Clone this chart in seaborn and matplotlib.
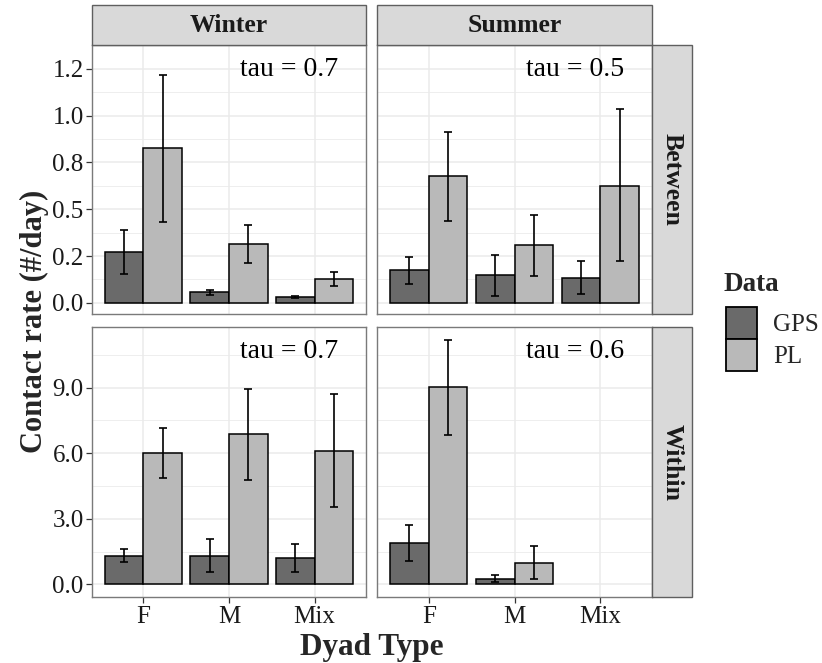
import numpy as np
import pandas as pd
import matplotlib
matplotlib.use("Agg")
import matplotlib.pyplot as plt
from matplotlib.patches import Patch, Rectangle
import seaborn as sns

# ---- data -------------------------------------------------------------
dyads = ["F", "M", "Mix"]
sources = ["GPS", "PL"]
seasons = ["Winter", "Summer"]
groups = ["Between", "Within"]

winter_between_gps = [0.274, 0.056, 0.032]
winter_between_gps_lo = [0.155, 0.043, 0.025]
winter_between_gps_hi = [0.389, 0.071, 0.038]
winter_between_pl = [0.825, 0.316, 0.127]
winter_between_pl_lo = [0.430, 0.214, 0.089]
winter_between_pl_hi = [1.217, 0.415, 0.163]

summer_between_gps = [0.175, 0.147, 0.135]
summer_between_gps_lo = [0.099, 0.037, 0.046]
summer_between_gps_hi = [0.247, 0.255, 0.226]
summer_between_pl = [0.677, 0.310, 0.626]
summer_between_pl_lo = [0.438, 0.143, 0.221]
summer_between_pl_hi = [0.914, 0.471, 1.033]

winter_within_gps = [1.30, 1.30, 1.23]
winter_within_gps_lo = [1.03, 0.56, 0.59]
winter_within_gps_hi = [1.61, 2.06, 1.86]
winter_within_pl = [6.02, 6.88, 6.11]
winter_within_pl_lo = [4.88, 4.79, 3.52]
winter_within_pl_hi = [7.17, 8.95, 8.73]

summer_within_gps = [1.91, 0.24, np.nan]
summer_within_gps_lo = [1.08, 0.09, np.nan]
summer_within_gps_hi = [2.73, 0.41, np.nan]
summer_within_pl = [9.03, 1.00, np.nan]
summer_within_pl_lo = [6.83, 0.24, np.nan]
summer_within_pl_hi = [11.2, 1.77, np.nan]

tau_labels = {("Winter", "Between"): "tau = 0.7",
              ("Summer", "Between"): "tau = 0.5",
              ("Winter", "Within"): "tau = 0.7",
              ("Summer", "Within"): "tau = 0.6"}

between_ticks = [0.0, 0.25, 0.5, 0.75, 1.0, 1.25]
between_ticklabels = ["0.0", "0.2", "0.5", "0.8", "1.0", "1.2"]
within_ticks = [0.0, 3.0, 6.0, 9.0]
within_ticklabels = ["0.0", "3.0", "6.0", "9.0"]

series = {
    ("Winter", "Between", "GPS"): (winter_between_gps, winter_between_gps_lo, winter_between_gps_hi),
    ("Winter", "Between", "PL"): (winter_between_pl, winter_between_pl_lo, winter_between_pl_hi),
    ("Summer", "Between", "GPS"): (summer_between_gps, summer_between_gps_lo, summer_between_gps_hi),
    ("Summer", "Between", "PL"): (summer_between_pl, summer_between_pl_lo, summer_between_pl_hi),
    ("Winter", "Within", "GPS"): (winter_within_gps, winter_within_gps_lo, winter_within_gps_hi),
    ("Winter", "Within", "PL"): (winter_within_pl, winter_within_pl_lo, winter_within_pl_hi),
    ("Summer", "Within", "GPS"): (summer_within_gps, summer_within_gps_lo, summer_within_gps_hi),
    ("Summer", "Within", "PL"): (summer_within_pl, summer_within_pl_lo, summer_within_pl_hi),
}

rows = []
for (season, group, src), (mean, lo, hi) in series.items():
    for d, m, l, h in zip(dyads, mean, lo, hi):
        rows.append(dict(season=season, group=group, source=src, dyad=d,
                         rate=m, lo=l, hi=h))
df = pd.DataFrame(rows)

# ---- style ------------------------------------------------------------
sns.set_theme(style="white")
plt.rcParams["font.family"] = ["Liberation Serif", "DejaVu Serif"]

palette = {"GPS": "#6a6a6a", "PL": "#b9b9b9"}
border_col = "#7a7a7a"
grid_col = "#ebebeb"
strip_fill = "#d9d9d9"
strip_edge = "#5f5f5f"

W, H = 822, 663
fig = plt.figure(figsize=(W / 100, H / 100), dpi=100)


def fig_rect(left, top, right, bottom):
    return [left / W, 1 - bottom / H, (right - left) / W, (bottom - top) / H]


col_x = {"Winter": (92, 366), "Summer": (377.3, 651.7)}
row_y = {"Between": (45.3, 314.3), "Within": (327.3, 596.7)}
strip_top = 5
strip_right = 692

for group in groups:
    sub_g = df[df.group == group]
    ymax = np.nanmax(sub_g.hi.values)
    ylim = (-0.05 * ymax, 1.05 * ymax)
    for season in seasons:
        x0, x1 = col_x[season]
        y0, y1 = row_y[group]
        ax = fig.add_axes(fig_rect(x0, y0, x1, y1))
        sub = sub_g[sub_g.season == season].dropna(subset=["rate"])
        sns.barplot(data=sub, x="dyad", y="rate", hue="source", order=dyads,
                    hue_order=sources, palette=palette, width=0.9,
                    errorbar=None, edgecolor="black", linewidth=1.1,
                    saturation=1, legend=False, ax=ax, zorder=3)

        # error bars placed at the centre of each drawn bar
        for _, r in sub.iterrows():
            for p in ax.patches:
                if np.isclose(p.get_height(), r.rate) and \
                        abs(p.get_x() + p.get_width() / 2 - dyads.index(r.dyad)) < 0.5:
                    cx = p.get_x() + p.get_width() / 2
                    ax.errorbar(cx, r.rate,
                                yerr=[[r.rate - r.lo], [r.hi - r.rate]],
                                fmt="none", ecolor="black", elinewidth=1.2,
                                capsize=3.2, capthick=1.2, zorder=4)
                    break

        ax.set_xlim(-0.6, 2.6)
        ax.set_ylim(*ylim)
        ax.set_xlabel("")
        ax.set_ylabel("")

        if group == "Between":
            ticks, tlabels = between_ticks, between_ticklabels
        else:
            ticks, tlabels = within_ticks, within_ticklabels
        ax.set_yticks(ticks)
        minors = [(a + b) / 2 for a, b in zip(ticks[:-1], ticks[1:])]
        minors.append(ticks[-1] + (ticks[1] - ticks[0]) / 2)
        ax.set_yticks(minors, minor=True)

        ax.set_axisbelow(True)
        ax.grid(True, which="major", axis="both", color=grid_col, lw=1.1, zorder=0)
        ax.grid(True, which="minor", axis="y", color=grid_col, lw=0.6, zorder=0)

        for sp in ax.spines.values():
            sp.set_visible(True)
            sp.set_color(border_col)
            sp.set_linewidth(1.0)

        ax.tick_params(which="minor", length=0)
        if season == "Winter":
            ax.set_yticklabels(tlabels)
            ax.tick_params(axis="y", which="major", length=4, width=0.9,
                           color="#333333", labelsize=18, pad=2,
                           labelcolor="#1a1a1a", left=True)
        else:
            ax.tick_params(axis="y", which="major", left=False, labelleft=False)
        if group == "Within":
            ax.set_xticks(range(len(dyads)))
            ax.set_xticklabels(dyads)
            ax.tick_params(axis="x", which="major", length=4, width=0.9,
                           color="#333333", labelsize=18, pad=3,
                           labelcolor="#1a1a1a", bottom=True)
        else:
            ax.tick_params(axis="x", which="major", bottom=False, labelbottom=False)

        ax.text(0.72, 0.886, tau_labels[(season, group)], transform=ax.transAxes,
                ha="center", va="baseline", fontsize=20, color="black", zorder=5)

# ---- strips -----------------------------------------------------------
for season in seasons:
    x0, x1 = col_x[season]
    fig.patches.append(Rectangle((x0 / W, 1 - row_y["Between"][0] / H),
                                 (x1 - x0) / W, (row_y["Between"][0] - strip_top) / H,
                                 transform=fig.transFigure, facecolor=strip_fill,
                                 edgecolor=strip_edge, lw=1.0))
    fig.text((x0 + x1) / 2 / W, 1 - (strip_top + row_y["Between"][0]) / 2 / H, season,
             ha="center", va="center", fontsize=18.5, fontweight="bold",
             color="#1a1a1a")

sx0 = col_x["Summer"][1]
for group in groups:
    y0, y1 = row_y[group]
    fig.patches.append(Rectangle((sx0 / W, 1 - y1 / H), (strip_right - sx0) / W,
                                 (y1 - y0) / H, transform=fig.transFigure,
                                 facecolor=strip_fill, edgecolor=strip_edge, lw=1.0))
    fig.text((sx0 + strip_right) / 2 / W, 1 - (y0 + y1) / 2 / H, group,
             ha="center", va="center", rotation=-90, fontsize=18.5,
             fontweight="bold", color="#1a1a1a")

# ---- axis titles ------------------------------------------------------
fig.text((col_x["Winter"][0] + col_x["Summer"][1]) / 2 / W, 1 - 655 / H, "Dyad Type",
         ha="center", va="baseline", fontsize=22.5, fontweight="bold")
fig.text(34 / W, 1 - (row_y["Between"][0] + row_y["Within"][1]) / 2 / H,
         "Contact rate (#/day)", ha="center", va="center", rotation=90,
         fontsize=22, fontweight="bold")

# ---- legend -----------------------------------------------------------
fig.text(723 / W, 1 - 291 / H, "Data", ha="left", va="baseline",
         fontsize=19.5, fontweight="bold")
handles = [Patch(facecolor=palette[s], edgecolor="black", lw=1.3, label=s) for s in sources]
leg = fig.legend(handles=handles, loc="upper left",
                 bbox_to_anchor=(726 / W, 1 - 307 / H), frameon=False,
                 fontsize=18, handlelength=1.24, handleheight=1.59,
                 labelspacing=0.0, handletextpad=0.64, borderpad=0.0,
                 borderaxespad=0)

fig.savefig("out.png", dpi=100, facecolor="white")
